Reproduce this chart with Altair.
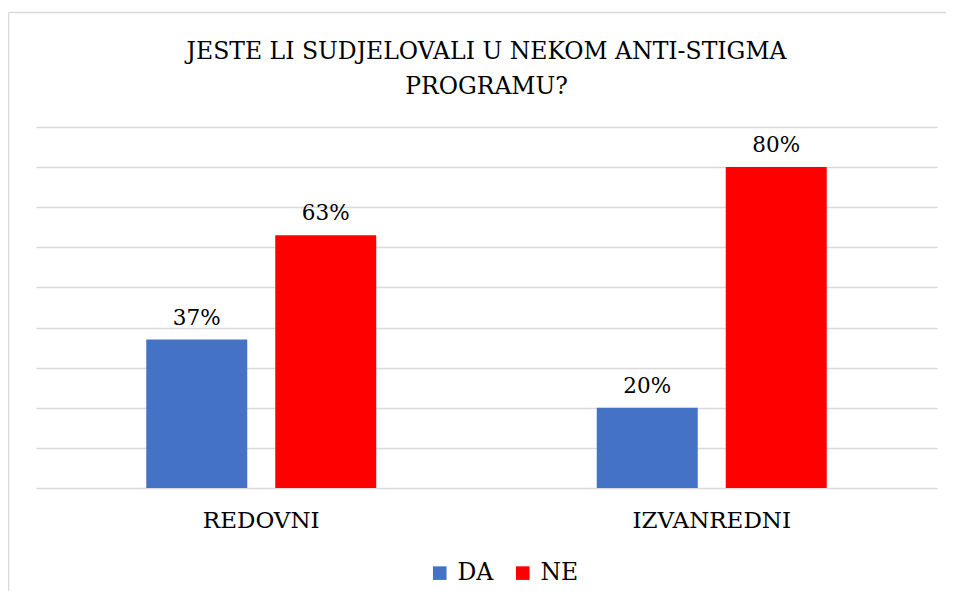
import altair as alt
import pandas as pd

categories = ["REDOVNI", "IZVANREDNI"]
series = ["DA", "NE"]
da_values = [0.37, 0.20]
ne_values = [0.63, 0.80]
grid_ticks = [0.0, 0.1, 0.2, 0.3, 0.4, 0.5, 0.6, 0.7, 0.8, 0.9]
colors = ["#4472C4", "#FF0000"]
title_lines = ["JESTE LI SUDJELOVALI U NEKOM ANTI-STIGMA", "PROGRAMU?"]

rows = []
for i, c in enumerate(categories):
    rows.append({"kat": c, "serija": "DA", "v": da_values[i]})
    rows.append({"kat": c, "serija": "NE", "v": ne_values[i]})
df = pd.DataFrame(rows)

FONT = "DejaVu Serif"
W, H = 901, 361

x = alt.X("kat:N", sort=categories, title=None,
          scale=alt.Scale(paddingInner=0, paddingOuter=0),
          axis=alt.Axis(labelAngle=0, labelFontSize=23, labelFont=FONT,
                        labelColor="#000000", labelPadding=21, ticks=False,
                        domain=False, grid=False))
xo = alt.XOffset("serija:N", sort=series,
                 scale=alt.Scale(paddingInner=0.217, paddingOuter=0.855))
y = alt.Y("v:Q", title=None,
          scale=alt.Scale(domain=[0, 0.9], nice=False),
          axis=alt.Axis(values=grid_ticks, labels=False, ticks=False,
                        domain=False, grid=True, gridColor="#d9d9d9",
                        gridWidth=1.5))

base = alt.Chart(df)

bars = base.mark_bar().encode(
    x=x, xOffset=xo, y=y,
    color=alt.Color("serija:N", sort=series,
                    scale=alt.Scale(domain=series, range=colors),
                    legend=alt.Legend(title=None, orient="none",
                                      direction="horizontal",
                                      legendX=392, legendY=434,
                                      symbolType="square", symbolSize=185,
                                      symbolStrokeWidth=0,
                                      labelFont=FONT, labelFontSize=23.5,
                                      labelColor="#000000", labelOffset=6,
                                      columnPadding=17, padding=0)),
)

labels = base.mark_text(baseline="bottom", dy=-10, fontSize=21.5,
                        font=FONT, color="#000000").encode(
    x=x, xOffset=xo, y=y,
    text=alt.Text("v:Q", format=".0%"),
)

title = alt.Chart(pd.DataFrame({"a": [0]})).mark_text(
    font=FONT, fontSize=23.5, color="#000000", align="center",
    baseline="alphabetic", lineHeight=35
).encode(x=alt.value(W / 2), y=alt.value(-68), text=alt.value(title_lines))

one = pd.DataFrame({"a": [0]})
border_top = alt.Chart(one).mark_rule(stroke="#d9d9d9", strokeWidth=1.5).encode(
    x=alt.value(-27.5), x2=alt.value(1000), y=alt.value(-114.5))
border_left = alt.Chart(one).mark_rule(stroke="#d9d9d9", strokeWidth=1.5).encode(
    x=alt.value(-27.5), y=alt.value(-114.5), y2=alt.value(600))

chart = alt.layer(border_top, border_left, title, bars, labels).properties(
    width=W, height=H,
    padding={"left": 28, "top": 119, "right": 9, "bottom": 103},
    autosize=alt.AutoSizeParams(type="none"),
).configure_view(stroke=None)

chart.save("out.html", embed_options={"renderer": "svg", "actions": False})
